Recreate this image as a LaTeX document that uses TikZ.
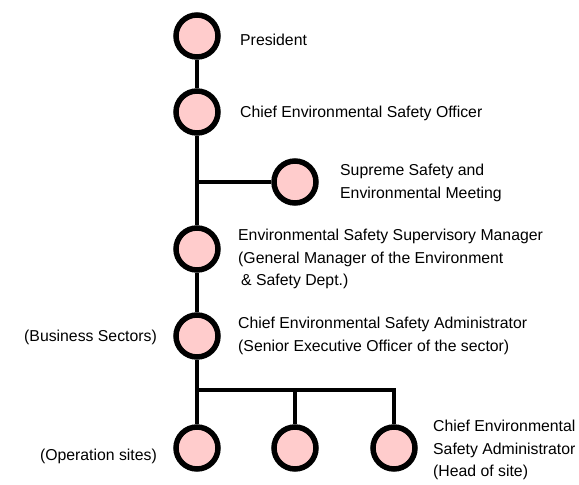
\documentclass[tikz,border=0pt]{standalone}
\usepackage{fontspec}
\setmainfont{Liberation Sans}
\usetikzlibrary{positioning}
\definecolor{rosefill}{RGB}{255,204,204}

\begin{document}
\begin{tikzpicture}[x=1pt, y=-1pt,
  member/.style={circle, draw=black, line width=5.5pt, fill=rosefill, minimum size=42pt, inner sep=0pt},
  link/.style={line width=4pt},
  label/.style={anchor=west, align=left, inner sep=0pt, font=\fontsize{15.8}{22.5}\selectfont},
  side/.style={anchor=east, inner sep=0pt, font=\fontsize{15.8}{22.5}\selectfont}]
\useasboundingbox (0,0) rectangle (579,485);
\node[member] (pres) at (197,36) {};
\node[member] (ceso) at (197,112) {};
\node[member] (meet) at (295,182) {};
\node[member] (esm) at (197,249) {};
\node[member] (bus) at (197,336) {};
\node[member] (site1) at (197,448) {};
\node[member] (site2) at (295,448) {};
\node[member] (site3) at (394,448) {};
\coordinate (br) at (197,182);
\coordinate (bar) at (197,390);

\draw[link] (pres) -- (ceso);
\draw[link] (ceso) -- (esm);
\draw[link] (br) -- (meet);
\draw[link] (esm) -- (bus);
\draw[link] (bus) -- (site1);
\draw[link] (bar) -| (site3);
\draw[link] (site2 |- bar) -- (site2);

\node[label] (tpres) at (240,40) {President};
\node[label] (tceso) at (240,113) {Chief Environmental Safety Officer};
\node[label] (tmeet) at (340,183) {Supreme Safety and\\Environmental Meeting};
\node[label] (tesm) at (238,259) {Environmental Safety Supervisory Manager\\(General Manager of the Environment\\\hspace{3pt}\& Safety Dept.)};
\node[label] (tbus) at (238,336) {Chief Environmental Safety Administrator\\(Senior Executive Officer of the sector)};
\node[label] (tsite) at (433,450) {Chief Environmental\\Safety Administrator\\(Head of site)};
\node[side] (lbus) at (157,337) {(Business Sectors)};
\node[side] (lsite) at (157,456) {(Operation sites)};
\end{tikzpicture}
\end{document}
